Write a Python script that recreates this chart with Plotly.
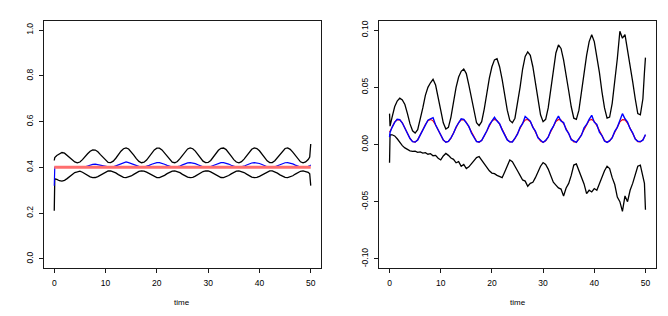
import plotly.graph_objects as go

# shared time grid (x values)
time = [0, 0.1] + [k / 2 for k in range(1, 100)] + [49.8, 50]

# ---------------- left panel ----------------
left_upper = [0.430, 0.443,
    0.452, 0.460, 0.465, 0.462, 0.452, 0.441, 0.432, 0.424, 0.420, 0.4234,
    0.4338, 0.4488, 0.4593, 0.4706, 0.4765, 0.4756, 0.4680, 0.4557, 0.4446, 0.4304,
    0.4217, 0.4205, 0.4272, 0.4399, 0.4559, 0.4709, 0.4815, 0.4850, 0.4805, 0.4692,
    0.4537, 0.4380, 0.4259, 0.4202, 0.4224, 0.4321, 0.4467, 0.4627, 0.4763, 0.4840,
    0.4840, 0.4763, 0.4628, 0.4467, 0.4321, 0.4225, 0.4202, 0.4258, 0.4380, 0.4537,
    0.4691, 0.4805, 0.4850, 0.4815, 0.4710, 0.4559, 0.4400, 0.4272, 0.4205, 0.4217,
    0.4304, 0.4446, 0.4607, 0.4747, 0.4834, 0.4845, 0.4777, 0.4648, 0.4489, 0.4339,
    0.4234, 0.4200, 0.4247, 0.4362, 0.4516, 0.4672, 0.4793, 0.4848, 0.4824, 0.4727,
    0.4580, 0.4420, 0.4286, 0.4209, 0.4211, 0.4289, 0.4425, 0.4586, 0.4731, 0.4826,
    0.4848, 0.4790, 0.4667, 0.4510, 0.4357, 0.4244, 0.4200, 0.4236, 0.4342,
    0.445, 0.502]

left_lower = [0.210, 0.350,
    0.3476, 0.3416, 0.3401, 0.3435, 0.3509, 0.3606, 0.3701, 0.3771, 0.3800, 0.3834,
    0.3786, 0.3717, 0.3643, 0.3584, 0.3553, 0.3557, 0.3597, 0.3662, 0.3736, 0.3802,
    0.3842, 0.3848, 0.3817, 0.3758, 0.3684, 0.3615, 0.3566, 0.3550, 0.3571, 0.3623,
    0.3694, 0.3767, 0.3823, 0.3849, 0.3839, 0.3794, 0.3727, 0.3653, 0.3590, 0.3555,
    0.3555, 0.3590, 0.3653, 0.3727, 0.3794, 0.3839, 0.3849, 0.3823, 0.3767, 0.3694,
    0.3623, 0.3571, 0.3550, 0.3566, 0.3615, 0.3684, 0.3758, 0.3817, 0.3848, 0.3842,
    0.3802, 0.3737, 0.3662, 0.3597, 0.3557, 0.3553, 0.3584, 0.3643, 0.3717, 0.3786,
    0.3834, 0.3850, 0.3828, 0.3775, 0.3704, 0.3632, 0.3576, 0.3551, 0.3562, 0.3607,
    0.3675, 0.3748, 0.3810, 0.3846, 0.3845, 0.3809, 0.3746, 0.3672, 0.3605, 0.3561,
    0.3551, 0.3578, 0.3634, 0.3707, 0.3778, 0.3830, 0.3850, 0.3833, 0.3784,
    0.372, 0.320]

left_blue = [0.320, 0.400,
    0.401, 0.402, 0.402, 0.402, 0.401, 0.401, 0.400, 0.400, 0.400, 0.400,
    0.401, 0.402, 0.406, 0.410, 0.413, 0.414, 0.412, 0.408, 0.405, 0.403,
    0.401, 0.400, 0.4023, 0.4064, 0.4116, 0.4165, 0.4199, 0.4235, 0.4205, 0.4159,
    0.4109, 0.4058, 0.4019, 0.4001, 0.4008, 0.4039, 0.4086, 0.4138, 0.4182, 0.4207,
    0.4207, 0.4182, 0.4138, 0.4086, 0.4039, 0.4008, 0.4001, 0.4019, 0.4058, 0.4109,
    0.4159, 0.4195, 0.4210, 0.4199, 0.4165, 0.4116, 0.4065, 0.4023, 0.4002, 0.4005,
    0.4034, 0.4079, 0.4131, 0.4177, 0.4205, 0.4208, 0.4186, 0.4145, 0.4093, 0.4045,
    0.4011, 0.4000, 0.4015, 0.4052, 0.4102, 0.4153, 0.4192, 0.4209, 0.4202, 0.4170,
    0.4123, 0.4071, 0.4028, 0.4003, 0.4004, 0.4029, 0.4073, 0.4125, 0.4172, 0.4202,
    0.4209, 0.4191, 0.4151, 0.4100, 0.4051, 0.4014, 0.4000, 0.4012, 0.4046,
    0.407, 0.410]

left_red_time = [0, 50]
left_red = [0.40, 0.40]

# ---------------- right panel ----------------
right_upper = [0.027, 0.016,
    0.024, 0.033, 0.038, 0.0405, 0.039, 0.035, 0.027, 0.018, 0.012, 0.010,
    0.013, 0.022, 0.032, 0.043, 0.050, 0.054, 0.057, 0.052, 0.042, 0.030,
    0.019, 0.0135, 0.015, 0.024, 0.037, 0.050, 0.059, 0.064, 0.066, 0.062,
    0.052, 0.040, 0.028, 0.019, 0.0165, 0.020, 0.031, 0.045, 0.058, 0.068,
    0.074, 0.075, 0.068, 0.057, 0.043, 0.030, 0.021, 0.019, 0.023, 0.035,
    0.050, 0.066, 0.077, 0.081, 0.078, 0.068, 0.054, 0.039, 0.026, 0.020,
    0.022, 0.032, 0.048, 0.065, 0.080, 0.087, 0.084, 0.074, 0.062, 0.047,
    0.033, 0.023, 0.022, 0.030, 0.046, 0.063, 0.078, 0.090, 0.096, 0.090,
    0.077, 0.063, 0.046, 0.032, 0.023, 0.024, 0.036, 0.054, 0.075, 0.099,
    0.093, 0.096, 0.083, 0.070, 0.055, 0.040, 0.027, 0.026, 0.040,
    0.063, 0.076]

right_red = [0.0107, 0.0117,
    0.0156, 0.0196, 0.0218, 0.0216, 0.0190, 0.0147, 0.0097, 0.0053, 0.0026, 0.0021,
    0.0041, 0.0080, 0.0129, 0.0175, 0.0209, 0.0220, 0.0207, 0.0173, 0.0125, 0.0077,
    0.0039, 0.0021, 0.0027, 0.0056, 0.0100, 0.0150, 0.0192, 0.0216, 0.0217, 0.0194,
    0.0153, 0.0104, 0.0059, 0.0028, 0.0020, 0.0037, 0.0074, 0.0122, 0.0170, 0.0205,
    0.0220, 0.0210, 0.0178, 0.0132, 0.0083, 0.0043, 0.0022, 0.0025, 0.0051, 0.0094,
    0.0144, 0.0187, 0.0214, 0.0219, 0.0199, 0.0159, 0.0110, 0.0064, 0.0031, 0.0020,
    0.0033, 0.0068, 0.0115, 0.0164, 0.0202, 0.0219, 0.0213, 0.0183, 0.0139, 0.0089,
    0.0048, 0.0023, 0.0023, 0.0046, 0.0088, 0.0137, 0.0182, 0.0212, 0.0219, 0.0203,
    0.0165, 0.0117, 0.0070, 0.0034, 0.0020, 0.0030, 0.0062, 0.0109, 0.0158, 0.0198,
    0.0218, 0.0215, 0.0188, 0.0145, 0.0096, 0.0052, 0.0025, 0.0022, 0.0042,
    0.0064, 0.0081]

right_blue = [0.0065, 0.0105,
    0.0150, 0.0194, 0.0220, 0.0218, 0.0188, 0.0145, 0.0095, 0.0052, 0.0025, 0.0022,
    0.0040, 0.0082, 0.0126, 0.0178, 0.0212, 0.0225, 0.0235, 0.0170, 0.0128, 0.0074,
    0.0040, 0.0020, 0.0028, 0.0058, 0.0098, 0.0153, 0.0190, 0.0225, 0.0220, 0.0188,
    0.0158, 0.0100, 0.0062, 0.0026, 0.0022, 0.0035, 0.0078, 0.0118, 0.0172, 0.0210,
    0.0238, 0.0205, 0.0182, 0.0128, 0.0088, 0.0040, 0.0024, 0.0022, 0.0055, 0.0090,
    0.0150, 0.0182, 0.0245, 0.0222, 0.0205, 0.0150, 0.0118, 0.0058, 0.0034, 0.0018,
    0.0036, 0.0064, 0.0122, 0.0158, 0.0210, 0.0248, 0.0205, 0.0192, 0.0130, 0.0098,
    0.0042, 0.0026, 0.0018, 0.0052, 0.0082, 0.0145, 0.0175, 0.0220, 0.0255, 0.0195,
    0.0175, 0.0108, 0.0078, 0.0030, 0.0018, 0.0034, 0.0058, 0.0115, 0.0150, 0.0210,
    0.0270, 0.0225, 0.0195, 0.0138, 0.0102, 0.0048, 0.0028, 0.0025, 0.0038,
    0.0068, 0.0088]

right_lower = [-0.016, 0.0086,
    0.0085, 0.0075, 0.0050, 0.0015, -0.0010, -0.0030, -0.0045, -0.0055, -0.0060, -0.0058,
    -0.0068, -0.0065, -0.0075, -0.0072, -0.0085, -0.0080, -0.0098, -0.0095, -0.0120, -0.0135,
    -0.0100, -0.0078, -0.0095, -0.0118, -0.0130, -0.0160, -0.0150, -0.0190, -0.0175, -0.0210,
    -0.0195, -0.0165, -0.0140, -0.0115, -0.0105, -0.0135, -0.0175, -0.0205, -0.0230, -0.0250,
    -0.0255, -0.0270, -0.0280, -0.0290, -0.0240, -0.0180, -0.0135, -0.0150, -0.0185, -0.0230,
    -0.0270, -0.0310, -0.0320, -0.0365, -0.0340, -0.0330, -0.0290, -0.0240, -0.0190, -0.0158,
    -0.0175, -0.0215, -0.0270, -0.0330, -0.0355, -0.0380, -0.0390, -0.0450, -0.0380, -0.0340,
    -0.0270, -0.0180, -0.0170, -0.0230, -0.0300, -0.0345, -0.0430, -0.0400, -0.0415, -0.0385,
    -0.0400, -0.0340, -0.0280, -0.0230, -0.0190, -0.0210, -0.0290, -0.0350, -0.0460, -0.0500,
    -0.0585, -0.0450, -0.0500, -0.0400, -0.0340, -0.0260, -0.0190, -0.0180, -0.0270,
    -0.0340, -0.0570]

# tick labels
x_ticks = [0, 10, 20, 30, 40, 50]
x_ticktext = ["0", "10", "20", "30", "40", "50"]
left_yticks = [0.0, 0.2, 0.4, 0.6, 0.8, 1.0]
left_yticktext = ["0.0", "0.2", "0.4", "0.6", "0.8", "1.0"]
right_yticks = [-0.10, -0.05, 0.0, 0.05, 0.10]
right_yticktext = ["-0.10", "-0.05", "0.00", "0.05", "0.10"]
x_label = "time"

W, H = 668, 316
FONT = "Liberation Sans, Arial, sans-serif"
AX = "#1a1a1a"

fig = go.Figure()

def add(x, y, color, width, xa, ya):
    fig.add_trace(go.Scatter(x=x, y=y, mode="lines", xaxis=xa, yaxis=ya,
                             line=dict(color=color, width=width),
                             hoverinfo="skip", showlegend=False))

add(time, left_upper, "black", 1.3, "x", "y")
add(time, left_lower, "black", 1.3, "x", "y")
add(time, left_blue, "#0000ff", 1.2, "x", "y")
add(left_red_time, left_red, "rgb(255,110,110)", 3, "x", "y")

add(time, right_upper, "black", 1.3, "x2", "y2")
add(time, right_lower, "black", 1.3, "x2", "y2")
add(time, right_red, "#ff0000", 1.2, "x2", "y2")
add(time, right_blue, "#0000ff", 1.4, "x2", "y2")

ydom = [(H - 268) / H, (H - 21) / H]
common = dict(showline=True, mirror=True, linecolor=AX, linewidth=1,
              ticks="outside", ticklen=4, tickcolor=AX, tickwidth=1,
              showgrid=False, zeroline=False,
              tickfont=dict(family=FONT, size=8.5, color="black"))

fig.update_layout(
    width=W, height=H, margin=dict(l=0, r=0, t=0, b=0),
    paper_bgcolor="white", plot_bgcolor="white", showlegend=False,
    xaxis=dict(domain=[44 / W, 321 / W], range=[-2, 52], tickvals=x_ticks,
               ticktext=x_ticktext, anchor="y", ticklabelstandoff=3, **common),
    yaxis=dict(domain=ydom, range=[-0.04, 1.04], tickvals=left_yticks,
               ticktext=left_yticktext, tickangle=-90, anchor="x",
               ticklabelstandoff=3, **common),
    xaxis2=dict(domain=[379.3 / W, 655.7 / W], range=[-2, 52], tickvals=x_ticks,
                ticktext=x_ticktext, anchor="y2", ticklabelstandoff=3, **common),
    yaxis2=dict(domain=ydom, range=[-0.108, 0.108], tickvals=right_yticks,
                ticktext=right_yticktext, tickangle=-90, anchor="x2",
                ticklabelstandoff=3, **common),
)

for cx in [(44 + 321) / 2, (379.3 + 655.7) / 2]:
    fig.add_annotation(text=x_label, xref="paper", yref="paper", x=cx / W,
                       y=(H - 302) / H, xanchor="center", yanchor="middle",
                       showarrow=False, font=dict(family=FONT, size=8, color="black"))

fig.write_html("out.html", config={"displayModeBar": False, "staticPlot": True},
               post_script="document.body.style.margin='0';document.body.style.overflow='hidden';")
